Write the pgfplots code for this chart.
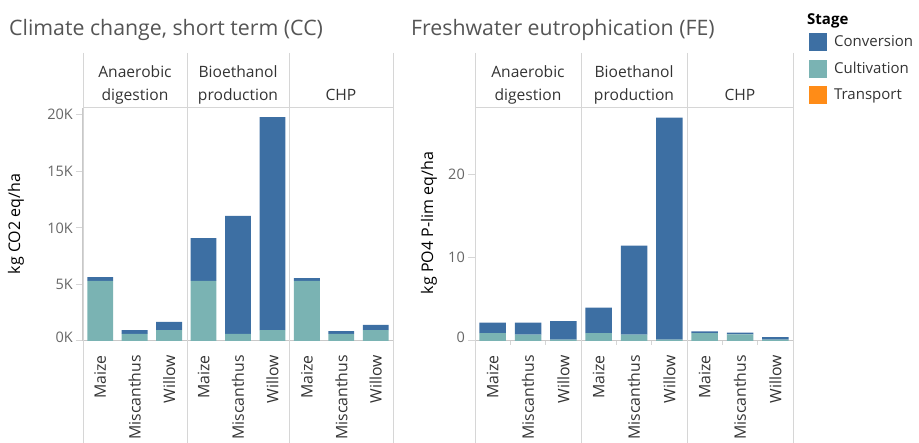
\documentclass[border=0pt]{standalone}
\usepackage{fontspec}
\setmainfont{Open Sans}
\usepackage{pgfplots}
\usepackage{pgfplotstable}
\pgfplotsset{compat=1.18}

\definecolor{conv}{HTML}{3D6FA3}
\definecolor{cult}{HTML}{7AB3B3}
\definecolor{trans}{HTML}{FF8C17}
\definecolor{gridc}{HTML}{D6D6D6}
\definecolor{basec}{HTML}{C8C8C8}
\definecolor{titlec}{HTML}{555555}
\definecolor{tickc}{HTML}{666666}
\definecolor{labc}{HTML}{333333}

\pgfplotstableread{
x cult trans conv
0 5310 0 330
1 620 0 350
2 970 0 710
3 5310 0 3780
4 620 0 10440
5 970 0 18830
6 5310 0 240
7 620 0 260
8 970 0 450
}\cctable

\pgfplotstableread{
x cult trans conv
0 0.96 0 1.24
1 0.77 0 1.43
2 0.17 0 2.23
3 0.96 0 3.04
4 0.77 0 10.68
5 0.17 0 26.63
6 0.96 0 0.20
7 0.80 0 0.20
8 0.17 0 0.31
}\fetable

\pgfplotsset{facet/.style={
  scale only axis, height=233pt, xmin=-0.5, xmax=8.5, ymin=0,
  ybar stacked, bar width=0.75,
  axis x line*=bottom, axis y line*=left,
  axis line style={draw=basec, line width=1pt},
  xtick={0,...,8},
  xticklabels={Maize,Miscanthus,Willow,Maize,Miscanthus,Willow,Maize,Miscanthus,Willow},
  x tick label style={rotate=90, anchor=east, inner sep=0pt, font=\fontsize{15.8}{15.8}\selectfont, text=labc},
  xticklabel shift=7pt,
  xtick style={draw=none},
  ytick style={draw=gridc, line width=1pt},
  tick align=outside, major tick length=7pt,
  y tick label style={font=\fontsize{14.5}{14.5}\selectfont, text=tickc, inner sep=0pt},
  yticklabel shift=3pt,
  scaled y ticks=false,
  clip=false,
  every axis plot/.append style={draw=none},
}}

\begin{document}
\begin{tikzpicture}[x=1pt,y=1pt]
\path[use as bounding box] (0,0) rectangle (919,-443);

\begin{axis}[facet, at={(83pt,-341pt)}, anchor=south west, width=310pt,
  ymax=20600,
  ytick={0,5000,10000,15000,20000},
  yticklabels={\raisebox{8pt}{0K},5K,10K,15K,\raisebox{-6pt}{20K}}]
\addplot+[fill=cult, forget plot] table[x=x,y=cult]{\cctable};
\addplot+[fill=trans, forget plot] table[x=x,y=trans]{\cctable};
\addplot+[fill=conv, forget plot] table[x=x,y=conv]{\cctable};
\end{axis}

\begin{axis}[facet, at={(475pt,-341pt)}, anchor=south west, width=318pt,
  ymax=27.97,
  ytick={0,10,20},
  yticklabels={\raisebox{8pt}{0},10,20},
  legend style={at={(1.05,1.322)}, anchor=north west, draw=none, fill=none,
    inner sep=0pt, row sep=8.5pt, column sep=7pt,
    font=\fontsize{15}{15}\selectfont, text=labc,
    nodes={inner sep=0pt}},
  legend cell align=left,
  legend image code/.code={\fill[#1] (0pt,-9pt) rectangle (18pt,9pt);}]
\addplot+[fill=cult, forget plot] table[x=x,y=cult]{\fetable};
\addplot+[fill=trans, forget plot] table[x=x,y=trans]{\fetable};
\addplot+[fill=conv, forget plot] table[x=x,y=conv]{\fetable};
\addlegendimage{fill=conv}\addlegendentry{Conversion}
\addlegendimage{fill=cult}\addlegendentry{Cultivation}
\addlegendimage{fill=trans}\addlegendentry{Transport}
\draw[gridc, line width=1pt] (axis cs:0.5,0) -- ([yshift=-4pt]axis cs:0.5,0);
\draw[gridc, line width=1pt] (axis cs:1.5,0) -- ([yshift=-4pt]axis cs:1.5,0);
\draw[gridc, line width=1pt] (axis cs:3.5,0) -- ([yshift=-4pt]axis cs:3.5,0);
\draw[gridc, line width=1pt] (axis cs:4.5,0) -- ([yshift=-4pt]axis cs:4.5,0);
\draw[gridc, line width=1pt] (axis cs:6.5,0) -- ([yshift=-4pt]axis cs:6.5,0);
\draw[gridc, line width=1pt] (axis cs:7.5,0) -- ([yshift=-4pt]axis cs:7.5,0);
\end{axis}

% facet frames
\foreach \xx in {83,187,289,393,475,581,687,793}{\draw[gridc, line width=1pt] (\xx,-53) -- (\xx,-443);}
\draw[gridc, line width=1pt] (83,-108) -- (393,-108);
\draw[gridc, line width=1pt] (475,-108) -- (793,-108);

% titles
\node[anchor=base west, inner sep=0pt, text=titlec, font=\fontsize{21.3}{21.3}\selectfont] at (9,-36) {Climate change, short term (CC)};
\node[anchor=base west, inner sep=0pt, text=titlec, font=\fontsize{21.3}{21.3}\selectfont] at (411,-36) {Freshwater eutrophication (FE)};

% facet headers
\begin{scope}[every node/.style={anchor=base, inner sep=0pt, text=labc, font=\fontsize{15.6}{15.6}\selectfont}]
\node at (135,-78) {Anaerobic};
\node at (135,-101) {digestion};
\node at (238,-78) {Bioethanol};
\node at (238,-101) {production};
\node at (341,-101) {CHP};
\node at (528,-78) {Anaerobic};
\node at (528,-101) {digestion};
\node at (634,-78) {Bioethanol};
\node at (634,-101) {production};
\node at (740,-101) {CHP};
\end{scope}

% axis titles
\node[rotate=90, inner sep=0pt, text=black, font=\fontsize{16}{16}\selectfont] at (16,-224) {kg CO2 eq/ha};
\node[rotate=90, inner sep=0pt, text=black, font=\fontsize{16}{16}\selectfont] at (429,-223) {kg PO4 P-lim eq/ha};

% legend title
\node[anchor=base west, inner sep=0pt, text=black, font=\fontsize{15}{15}\selectfont\bfseries] at (807,-25) {Stage};
\end{tikzpicture}
\end{document}
